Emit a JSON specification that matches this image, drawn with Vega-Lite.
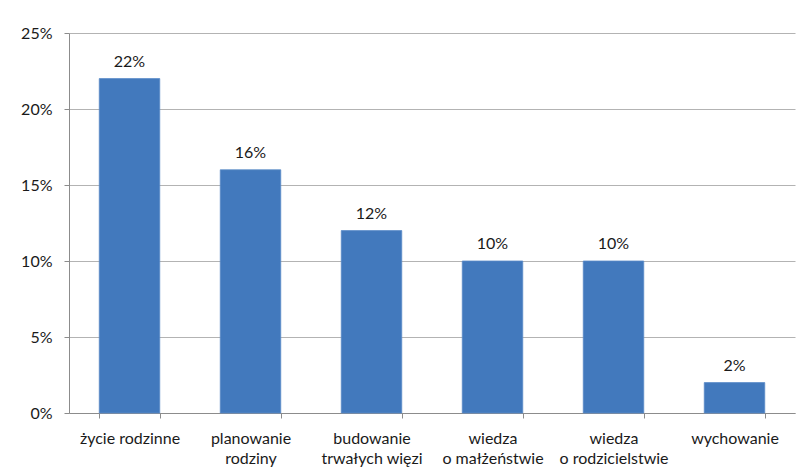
{
  "$schema": "https://vega.github.io/schema/vega-lite/v6.json",
  "width": 726,
  "height": 380,
  "autosize": {"type": "none"},
  "padding": {"left": 69, "top": 33, "right": 11, "bottom": 63},
  "background": "white",
  "data": {"values": [
    {"kategoria": "życie rodzinne", "udzial": 0.22},
    {"kategoria": "planowanie rodziny", "udzial": 0.16},
    {"kategoria": "budowanie trwałych więzi", "udzial": 0.12},
    {"kategoria": "wiedza o małżeństwie", "udzial": 0.10},
    {"kategoria": "wiedza o rodzicielstwie", "udzial": 0.10},
    {"kategoria": "wychowanie", "udzial": 0.02}
  ]},
  "config": {
    "font": "Lato",
    "view": {"stroke": null},
    "axis": {"labelFont": "Lato", "labelFontSize": 16, "labelColor": "#1a1a1a", "domainColor": "#8c8c8c", "tickColor": "#8c8c8c", "gridColor": "#b3b3b3"}
  },
  "layer": [
    {"mark": {"type": "bar", "color": "#4279bd", "stroke": "#5a8bc8", "strokeWidth": 0.8},
     "encoding": {
      "x": {
        "field": "kategoria", "type": "nominal", "sort": null,
        "scale": {"paddingInner": 0.5, "paddingOuter": 0.25},
        "axis": {
          "title": null, "labelAngle": 0, "tickBand": "extent", "tickSize": 5,
          "labelPadding": 12, "labelLineHeight": 20,
          "labelExpr": "indexof(datum.label, ' ') > 0 && datum.label != 'życie rodzinne' ? [slice(datum.label, 0, indexof(datum.label, ' ')), slice(datum.label, indexof(datum.label, ' ') + 1)] : datum.label"
        }
      },
      "y": {
        "field": "udzial", "type": "quantitative",
        "scale": {"domain": [0, 0.25], "nice": false},
        "axis": {"title": null, "format": ".0%", "values": [0, 0.05, 0.1, 0.15, 0.2, 0.25], "tickSize": 5, "labelPadding": 12, "grid": true}
      }
    }},
    {"mark": {"type": "text", "baseline": "alphabetic", "dy": -12, "fontSize": 16, "color": "#1a1a1a", "font": "Lato"},
     "encoding": {
      "x": {"field": "kategoria", "type": "nominal", "sort": null},
      "y": {"field": "udzial", "type": "quantitative"},
      "text": {"field": "udzial", "type": "quantitative", "format": ".0%"}
    }}
  ]
}
